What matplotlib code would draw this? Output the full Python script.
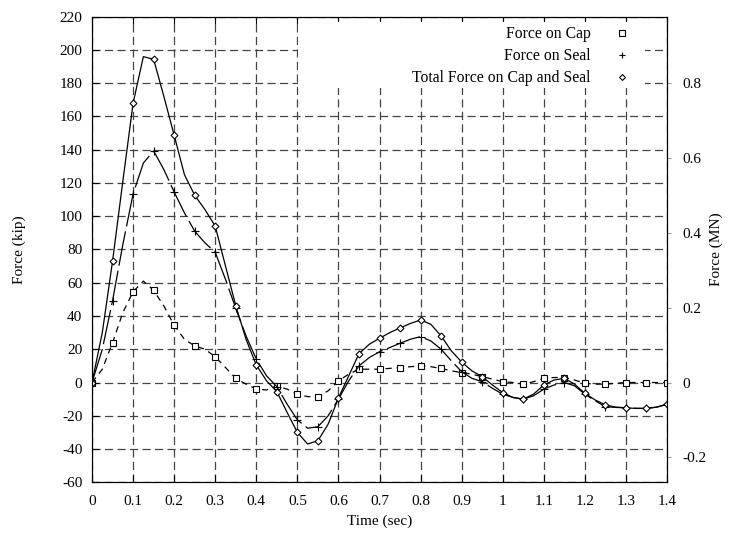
import numpy as np
import matplotlib
matplotlib.use("Agg")
import matplotlib.pyplot as plt
from matplotlib.lines import Line2D
from matplotlib.patches import Rectangle

plt.rcParams["font.family"] = ["Liberation Serif", "DejaVu Serif"]
plt.rcParams["axes.unicode_minus"] = False

# time in sec, read every 0.025 s (markers every 0.05 s)
time = [0.0, 0.025, 0.05, 0.075, 0.1, 0.125, 0.15, 0.175, 0.2, 0.225,
        0.25, 0.275, 0.3, 0.325, 0.35, 0.375, 0.4, 0.425, 0.45, 0.475,
        0.5, 0.525, 0.55, 0.575, 0.6, 0.625, 0.65, 0.675, 0.7, 0.725,
        0.75, 0.775, 0.8, 0.825, 0.85, 0.875, 0.9, 0.925, 0.95, 0.975,
        1.0, 1.025, 1.05, 1.075, 1.1, 1.125, 1.15, 1.175, 1.2, 1.225,
        1.25, 1.275, 1.3, 1.325, 1.35, 1.375, 1.4]

# force in kip
cap = [0, 8, 24, 42, 54.6, 61, 55.4, 46, 34.4, 26,
       22, 20, 15.5, 9, 2.5, -1, -3.9, -4.5, -2, -4,
       -7, -8.5, -8.5, -5, 1, 5, 8, 8, 8, 8.5,
       9, 9.5, 10, 9.5, 8.5, 7, 6, 5, 3.5, 2,
       0.5, 0, -1, 0.5, 2.5, 3, 3, 1.5, -0.5, -1,
       -1, -0.5, 0, 0, 0, 0, 0]

seal = [0, 20, 49.2, 83, 113.4, 132, 139.3, 128, 114.6, 102,
        91, 84, 78.3, 62, 44.6, 28, 14, 4, -2.5, -13,
        -22.5, -27.5, -26.6, -20, -10, 1, 10, 15, 18.5, 21,
        23.6, 26, 27.6, 25, 20, 13, 6.5, 2.5, 0.5, -3.5,
        -7, -9, -10, -8, -4, -1.5, 0, -2, -7, -11,
        -14.5, -15, -15.2, -15.5, -15.6, -14.8, -13.1]

total = [0, 30, 73, 121, 168, 196, 194.4, 172, 148.7, 125,
         112.6, 104, 94, 70, 46.2, 26, 10.5, 1, -5.5, -18,
         -30, -37, -35, -25, -9.3, 4, 17.3, 23, 26.6, 30,
         32.8, 35.5, 37.6, 35, 28, 19, 12.3, 7, 3.5, -1.5,
         -6.1, -9, -10, -7, -1.5, 1.5, 2.5, -1, -6.5, -10.5,
         -13.5, -14.8, -15.2, -15.6, -15.6, -14.8, -13.1]

kip_to_MN = 0.0044482

fig = plt.figure(figsize=(7.38, 5.33), dpi=100)
ax = fig.add_axes([0.1247, 0.0952, 0.7791, 0.8734])

ax.grid(True, color="#444444", linestyle=(0, (6.5, 3.5)), linewidth=0.9)
ax.set_axisbelow(True)

# white key box hiding the grid, like the original
ax.add_patch(Rectangle((0.358, 0.847), 0.604, 0.142, transform=ax.transAxes,
                       facecolor="white", edgecolor="none", zorder=1.5))

ax.plot(time, cap, color="black", lw=0.9, ls=(0, (5, 4)),
        marker="s", ms=5, mfc="white", mec="black", mew=0.8, markevery=2)
ax.plot(time, seal, color="black", lw=0.9, ls=(0, (28, 4)),
        marker="+", ms=6, mew=0.8, markevery=2)
ax.plot(time, total, color="black", lw=0.9,
        marker="D", ms=3.5, mfc="white", mec="black", mew=0.8, markevery=2)

ax.set_xlim(0, 1.4)
ax.set_ylim(-60, 220)
ax.set_xticks(np.arange(0, 1.41, 0.1))
ax.set_xticklabels(["0", "0.1", "0.2", "0.3", "0.4", "0.5", "0.6", "0.7",
                    "0.8", "0.9", "1", "1.1", "1.2", "1.3", "1.4"])
ax.set_yticks(np.arange(-60, 221, 20))
ax.tick_params(direction="in", top=True, right=True, labelsize=11, length=5)
ax.tick_params(axis="x", pad=9)
ax.tick_params(axis="y", pad=7)
ax.set_xlabel("Time (sec)", fontsize=11, labelpad=5)
ax.set_ylabel("Force (kip)", fontsize=11, labelpad=24)
for s in ax.spines.values():
    s.set_linewidth(0.8)

ax2 = ax.twinx()
ax2.set_ylim(-60 * kip_to_MN, 220 * kip_to_MN)
ax2.set_yticks([-0.2, 0, 0.2, 0.4, 0.6, 0.8])
ax2.set_yticklabels(["-0.2", "0", "0.2", "0.4", "0.6", "0.8"])
ax2.tick_params(direction="out", labelsize=11, length=3, pad=8, color="#999999")
ax2.set_ylabel("Force (MN)", fontsize=11, labelpad=2)

handles = [
    Line2D([], [], ls="none", marker="s", ms=4, mfc="white", mec="black", mew=0.8),
    Line2D([], [], ls="none", marker="+", ms=5, mec="black", mew=0.8),
    Line2D([], [], ls="none", marker="D", ms=3, mfc="white", mec="black", mew=0.8),
]
leg = ax.legend(handles, ["Force on Cap", "Force on Seal", "Total Force on Cap and Seal"],
                loc="upper right", bbox_to_anchor=(0.964, 1.007), markerfirst=False,
                frameon=False, fontsize=11.3, handlelength=1.5, handletextpad=1.25,
                labelspacing=0.39, borderpad=0.3)

fig.savefig("out.png", dpi=100)
